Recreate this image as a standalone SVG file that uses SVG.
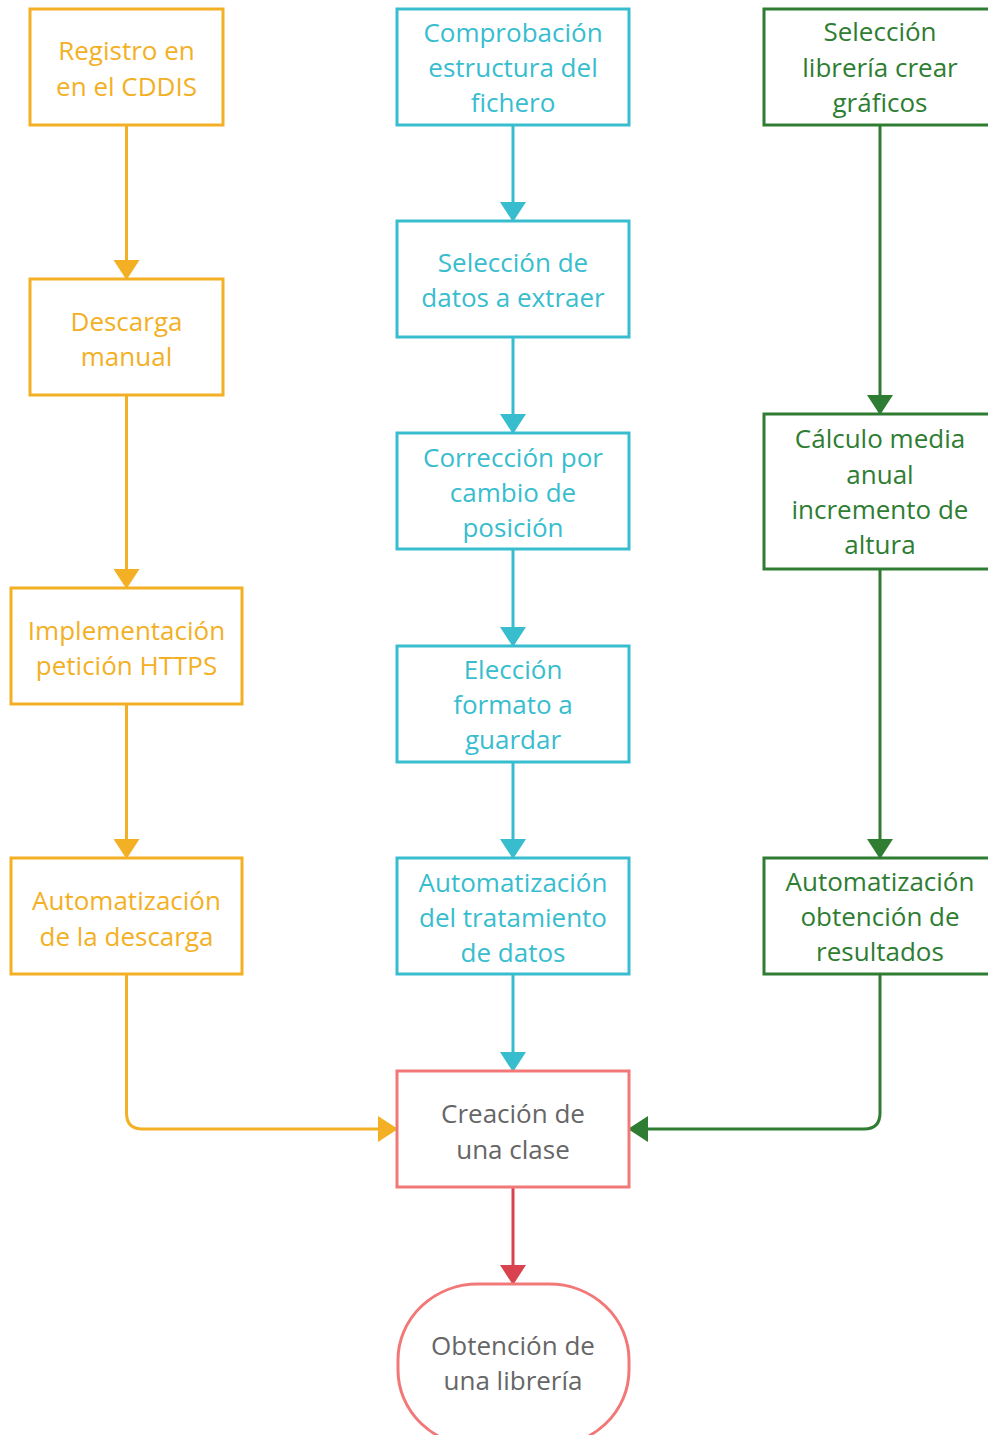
<svg xmlns="http://www.w3.org/2000/svg" width="988" height="1435" viewBox="0 0 988 1435">
<style>
text{font-family:"Open Sans","Noto Sans",sans-serif;font-size:26px;text-anchor:middle}
.o rect{fill:#fff;stroke:#F3B025;stroke-width:3}
.o text{fill:#F3B025}
.c rect{fill:#fff;stroke:#38BDCF;stroke-width:3}
.c text{fill:#38BDCF}
.g rect{fill:#fff;stroke:#2E7D32;stroke-width:3}
.g text{fill:#2E7D32}
.r rect{fill:#fff;stroke:#F27878;stroke-width:3}
.r text{fill:#666}
.l{fill:none;stroke-width:3}
</style>
<defs>
<marker id="ao" markerWidth="20" markerHeight="26" refX="19" refY="13" orient="auto" markerUnits="userSpaceOnUse"><path d="M0,0 L20,13 L0,26 Z" fill="#F3B025"/></marker>
<marker id="ac" markerWidth="20" markerHeight="26" refX="19" refY="13" orient="auto" markerUnits="userSpaceOnUse"><path d="M0,0 L20,13 L0,26 Z" fill="#38BDCF"/></marker>
<marker id="ag" markerWidth="20" markerHeight="26" refX="19" refY="13" orient="auto" markerUnits="userSpaceOnUse"><path d="M0,0 L20,13 L0,26 Z" fill="#2E7D32"/></marker>
<marker id="ar" markerWidth="20" markerHeight="26" refX="19" refY="13" orient="auto" markerUnits="userSpaceOnUse"><path d="M0,0 L20,13 L0,26 Z" fill="#D9434F"/></marker>
</defs>
<g id="connectors">
<path class="l" stroke="#F3B025" marker-end="url(#ao)" d="M126.5,125 V279"/>
<path class="l" stroke="#F3B025" marker-end="url(#ao)" d="M126.5,395 V588"/>
<path class="l" stroke="#F3B025" marker-end="url(#ao)" d="M126.5,704 V858"/>
<path class="l" stroke="#F3B025" marker-end="url(#ao)" d="M126.5,974 V1113 Q126.5,1129 142.5,1129 H397"/>
<path class="l" stroke="#38BDCF" marker-end="url(#ac)" d="M513,125 V221"/>
<path class="l" stroke="#38BDCF" marker-end="url(#ac)" d="M513,337 V433"/>
<path class="l" stroke="#38BDCF" marker-end="url(#ac)" d="M513,549 V646"/>
<path class="l" stroke="#38BDCF" marker-end="url(#ac)" d="M513,762 V858"/>
<path class="l" stroke="#38BDCF" marker-end="url(#ac)" d="M513,974 V1071"/>
<path class="l" stroke="#2E7D32" marker-end="url(#ag)" d="M880,125 V414"/>
<path class="l" stroke="#2E7D32" marker-end="url(#ag)" d="M880,569 V858"/>
<path class="l" stroke="#2E7D32" marker-end="url(#ag)" d="M880,974 V1113 Q880,1129 864,1129 H629"/>
<path class="l" stroke="#D9434F" marker-end="url(#ar)" d="M513,1187 V1284"/>
</g>
<g id="n1" class="o"><rect x="30" y="9" width="193" height="116"/><text x="126.5" y="60">Registro en</text><text x="126.5" y="96">en el CDDIS</text></g>
<g id="n2" class="o"><rect x="30" y="279" width="193" height="116"/><text x="126.5" y="331">Descarga</text><text x="126.5" y="366">manual</text></g>
<g id="n3" class="o"><rect x="11" y="588" width="231" height="116"/><text x="126.5" y="640">Implementación</text><text x="126.5" y="675">petición HTTPS</text></g>
<g id="n4" class="o"><rect x="11" y="858" width="231" height="116"/><text x="126.5" y="910">Automatización</text><text x="126.5" y="946">de la descarga</text></g>
<g id="n5" class="c"><rect x="397" y="9" width="232" height="116"/><text x="513" y="42">Comprobación</text><text x="513" y="77">estructura del</text><text x="513" y="112">fichero</text></g>
<g id="n6" class="c"><rect x="397" y="221" width="232" height="116"/><text x="513" y="272">Selección de</text><text x="513" y="307">datos a extraer</text></g>
<g id="n7" class="c"><rect x="397" y="433" width="232" height="116"/><text x="513" y="467">Corrección por</text><text x="513" y="502">cambio de</text><text x="513" y="537">posición</text></g>
<g id="n8" class="c"><rect x="397" y="646" width="232" height="116"/><text x="513" y="679">Elección</text><text x="513" y="714">formato a</text><text x="513" y="749">guardar</text></g>
<g id="n9" class="c"><rect x="397" y="858" width="232" height="116"/><text x="513" y="892">Automatización</text><text x="513" y="927">del tratamiento</text><text x="513" y="962">de datos</text></g>
<g id="n10" class="g"><rect x="764" y="9" width="232" height="116"/><text x="880" y="41">Selección</text><text x="880" y="77">librería crear</text><text x="880" y="112">gráficos</text></g>
<g id="n11" class="g"><rect x="764" y="414" width="232" height="155"/><text x="880" y="448">Cálculo media</text><text x="880" y="484">anual</text><text x="880" y="519">incremento de</text><text x="880" y="554">altura</text></g>
<g id="n12" class="g"><rect x="764" y="858" width="232" height="116"/><text x="880" y="891">Automatización</text><text x="880" y="926">obtención de</text><text x="880" y="961">resultados</text></g>
<g id="n13" class="r"><rect x="397" y="1071" width="232" height="116"/><text x="513" y="1123">Creación de</text><text x="513" y="1159">una clase</text></g>
<g id="n14" class="r"><rect x="398" y="1284" width="231" height="162" rx="80" ry="76"/><text x="513" y="1355">Obtención de</text><text x="513" y="1390">una librería</text></g>
</svg>
